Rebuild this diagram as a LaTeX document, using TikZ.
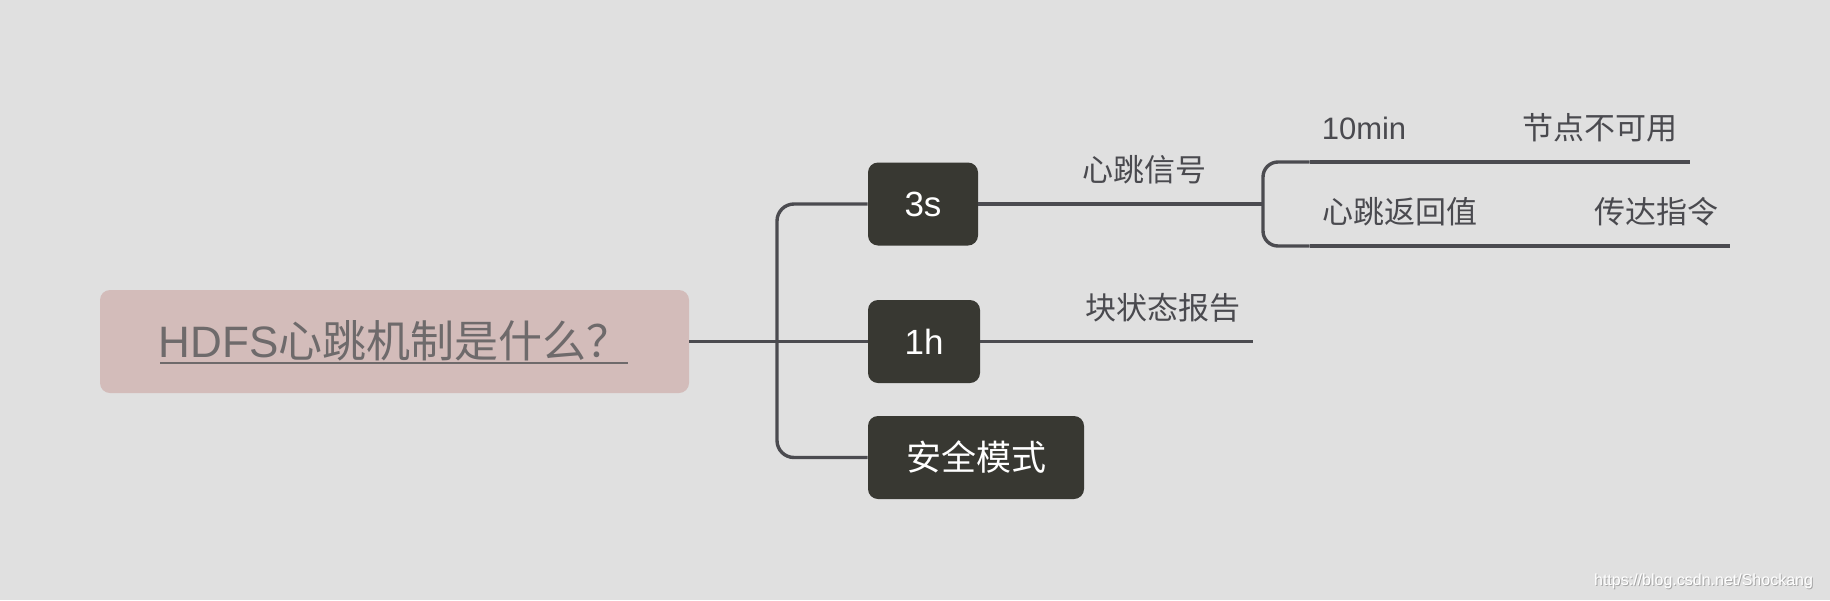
\documentclass[tikz,border=0pt]{standalone}
\usepackage{fontspec}
\setmainfont{Liberation Sans}
\newfontfamily\cjk{Noto Sans CJK SC}
\usetikzlibrary{calc}
\definecolor{bg}{HTML}{E0E0E0}
\definecolor{linec}{HTML}{4B4B50}
\definecolor{darkc}{HTML}{383832}
\definecolor{rootfill}{HTML}{D3BCBA}
\definecolor{roottext}{HTML}{6E6A6B}
\definecolor{labelc}{HTML}{4A4A4F}
\tikzset{
  conn/.style={draw=linec, line width=1.7pt},
  rootbox/.style={fill=rootfill, rounded corners=5pt, inner sep=0pt,
    text=roottext, font=\fontsize{22}{22}\selectfont, text height=19pt, text depth=3pt},
  darkbox/.style={fill=darkc, rounded corners=5pt, inner sep=0pt, text=white,
    minimum height=41.5pt, font=\fontsize{17.5}{17.5}\selectfont, text height=15pt, text depth=2.5pt},
  leaf/.style={inner sep=0pt, anchor=south, minimum height=33pt, text=labelc,
    font=\fontsize{15.5}{15.5}\selectfont\cjk, text height=13.3pt, text depth=2.2pt}
}
\begin{document}
\begin{tikzpicture}[x=0.5pt,y=-0.5pt]
\fill[bg] (0,0) rectangle (1830,600);
\useasboundingbox (0,0) rectangle (1830,600);

% root
\node[rootbox, minimum width=294.5pt, minimum height=51.5pt] (root) at (394.5,341.5) {HDFS{\cjk 心跳机制是什么？}};
\draw[roottext, line width=1pt] (160,363) -- (628,363);

% first level
\node[darkbox, minimum width=55pt] (b3s) at (923,204) {3s};
\node[darkbox, minimum width=56pt] (b1h) at (924,341.5) {1h};
\node[darkbox, minimum width=108pt] (safe) at (976,457.5) {\cjk 安全模式};

\coordinate (trunk) at (777,341.5);
\draw[conn] (root.east) -- (b1h.west);
\draw[conn, rounded corners=8.5pt] (b3s.west) -| (trunk) |- (safe.west);

% second level
\node[leaf, minimum width=74pt] (sig) at (1144,204) {心跳信号};
\node[leaf, minimum width=90.5pt] (blk) at (1162.5,341.5) {块状态报告};
\draw[conn] (b3s.east) -- (sig.south west);
\draw[conn] (sig.south west) -- (sig.south east);
\draw[conn] (b1h.east) -- (blk.south west);
\draw[conn] (blk.south west) -- (blk.south east);

% third level
\coordinate (fork) at (1263,204);
\node[leaf, minimum width=54pt, font=\fontsize{15.5}{15.5}\selectfont] (m10) at (1364,162) {10min};
\node[leaf, minimum width=90pt] (nav) at (1600,162) {节点不可用};
\node[leaf, minimum width=90pt] (ret) at (1400,246) {心跳返回值};
\node[leaf, minimum width=74pt] (cmd) at (1656,246) {传达指令};
\draw[conn] (sig.south east) -- (fork);
\draw[conn, rounded corners=7.5pt] (m10.south west) -| (fork) |- (ret.south west);
\draw[conn] (m10.south west) -- (m10.south east);
\draw[conn] (m10.south east) -- (nav.south west);
\draw[conn] (nav.south west) -- (nav.south east);
\draw[conn] (ret.south west) -- (ret.south east);
\draw[conn] (ret.south east) -- (cmd.south west);
\draw[conn] (cmd.south west) -- (cmd.south east);

% watermark
\node[text=gray!70, font=\fontsize{8}{8}\selectfont, anchor=east] (wmshadow) at (1821,582) {https://blog.csdn.net/Shockang};
\node[text=white, font=\fontsize{8}{8}\selectfont, anchor=east] (wm) at (1820,581) {https://blog.csdn.net/Shockang};
\end{tikzpicture}
\end{document}
